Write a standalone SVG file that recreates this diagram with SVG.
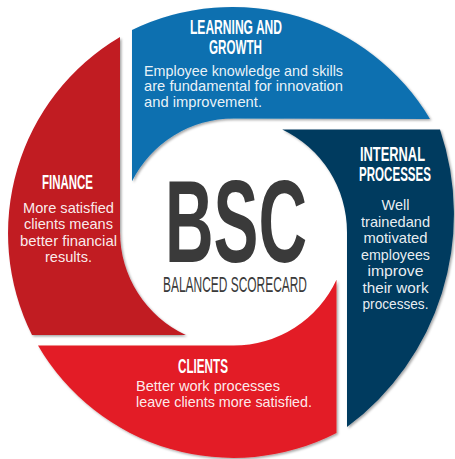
<svg xmlns="http://www.w3.org/2000/svg" width="455" height="459" viewBox="0 0 455 459">
<defs>
<filter id="sh" x="-10%" y="-10%" width="120%" height="120%">
<feDropShadow dx="1.5" dy="1.5" stdDeviation="1.2" flood-color="#000" flood-opacity="0.35"/>
</filter>
</defs>
<style>
.seg { filter: url(#sh); }
.h { font-family: "Liberation Sans", Arial, sans-serif; font-weight: bold; fill: #ffffff; font-size: 15.6px; text-anchor: middle; }
.b { font-family: "Liberation Sans", Arial, sans-serif; fill: #ffffff; fill-opacity: 0.93; font-size: 14.5px; }
.c { font-family: "Liberation Sans", Arial, sans-serif; fill: #3a3a3a; text-anchor: middle; }
</style>
<rect width="455" height="459" fill="#ffffff"/>
<g id="learning-growth">
<path class="seg" fill="#0b6fb0" d="M132,30 A230,230 0 0 1 430,119 L233.5,118.5 A113.5,113.5 0 0 0 132,181.2 Z"/>
<text class="h" transform="translate(236,34) scale(1,1.25)" textLength="92" lengthAdjust="spacingAndGlyphs">LEARNING AND</text>
<text class="h" transform="translate(235.5,54) scale(1,1.25)" textLength="53" lengthAdjust="spacingAndGlyphs">GROWTH</text>
<text class="b" x="144" y="75.5" textLength="199" lengthAdjust="spacingAndGlyphs">Employee knowledge and skills</text>
<text class="b" x="144" y="91" textLength="199" lengthAdjust="spacingAndGlyphs">are fundamental for innovation</text>
<text class="b" x="144" y="106.5" textLength="118" lengthAdjust="spacingAndGlyphs">and improvement.</text>
</g>
<g id="internal-processes">
<path class="seg" fill="#053b5f" d="M282.2,129.5 L440,129.5 A265,265 0 0 1 347,427 L347,232 A113.5,113.5 0 0 0 282.2,129.5 Z"/>
<text class="h" transform="translate(392.5,161) scale(1,1.25)" textLength="65" lengthAdjust="spacingAndGlyphs">INTERNAL</text>
<text class="h" transform="translate(395,181) scale(1,1.25)" textLength="72" lengthAdjust="spacingAndGlyphs">PROCESSES</text>
<g class="b" text-anchor="middle">
<text x="395.5" y="210">Well</text>
<text x="395.5" y="226.5" textLength="69" lengthAdjust="spacingAndGlyphs">trainedand</text>
<text x="395.5" y="243" textLength="64" lengthAdjust="spacingAndGlyphs">motivated</text>
<text x="395.5" y="259.5" textLength="69" lengthAdjust="spacingAndGlyphs">employees</text>
<text x="395.5" y="276" textLength="56" lengthAdjust="spacingAndGlyphs">improve</text>
<text x="395.5" y="292.5" textLength="66" lengthAdjust="spacingAndGlyphs">their work</text>
<text x="395.5" y="309" textLength="66" lengthAdjust="spacingAndGlyphs">processes.</text>
</g>
</g>
<g id="clients">
<path class="seg" fill="#e31e26" d="M38,345.5 L233.5,345.5 A113.5,113.5 0 0 0 336.5,279.7 L336.5,433 A226,226 0 0 1 38,345.5 Z"/>
<text class="h" transform="translate(203,373) scale(1,1.25)" font-size="14.5" textLength="50" lengthAdjust="spacingAndGlyphs">CLIENTS</text>
<text class="b" x="136" y="391" textLength="144" lengthAdjust="spacingAndGlyphs">Better work processes</text>
<text class="b" x="136" y="407" textLength="176" lengthAdjust="spacingAndGlyphs">leave clients more satisfied.</text>
</g>
<g id="finance">
<path class="seg" fill="#c11a24" d="M120,37 L120,232 A113.5,113.5 0 0 0 185.8,335 L32,335 A228,228 0 0 1 120,37 Z"/>
<text class="h" transform="translate(67.5,189) scale(1,1.25)" textLength="51" lengthAdjust="spacingAndGlyphs">FINANCE</text>
<g class="b" text-anchor="middle">
<text x="68.5" y="213.3" textLength="91" lengthAdjust="spacingAndGlyphs">More satisfied</text>
<text x="68.5" y="229.3" textLength="89" lengthAdjust="spacingAndGlyphs">clients means</text>
<text x="68.5" y="245.7" textLength="97" lengthAdjust="spacingAndGlyphs">better financial</text>
<text x="68.5" y="261.7" textLength="47" lengthAdjust="spacingAndGlyphs">results.</text>
</g>
</g>
<g id="center">
<text class="c" x="236" y="262" font-size="117" font-weight="bold" textLength="142" lengthAdjust="spacingAndGlyphs">BSC</text>
<text class="c" x="235" y="292" font-size="22" textLength="144" lengthAdjust="spacingAndGlyphs">BALANCED SCORECARD</text>
</g>
<g id="connectors"></g>
</svg>
